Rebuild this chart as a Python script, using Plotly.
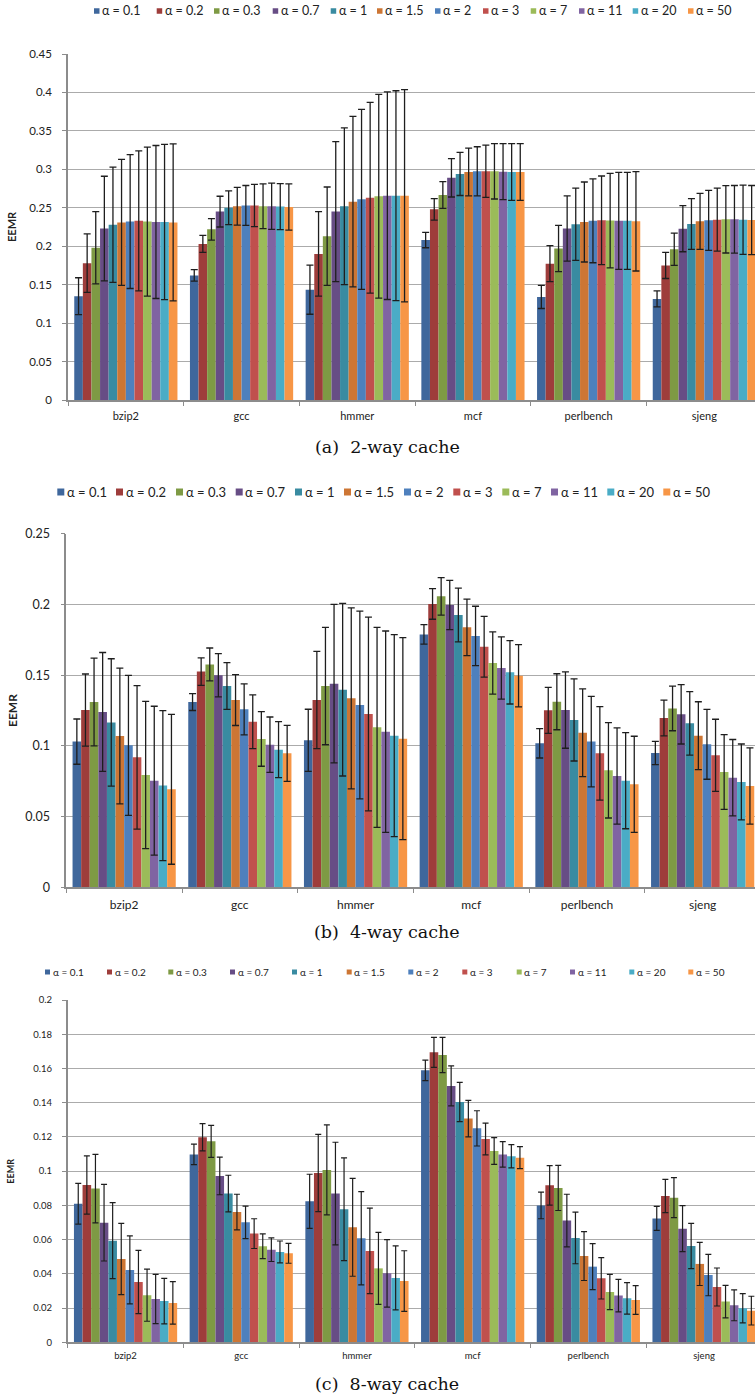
import plotly.graph_objects as go

W, H = 755, 1398

benchmarks = ["bzip2", "gcc", "hmmer", "mcf", "perlbench", "sjeng"]
alphas = ["0.1", "0.2", "0.3", "0.7", "1", "1.5", "2", "3", "7", "11", "20", "50"]
colors = ["#3F679C", "#9E3D3B", "#7E9A44", "#674D85", "#398BA1", "#CD7634",
          "#4E80BD", "#C0504D", "#9BBB59", "#8064A2", "#4AACC6", "#F79646"]

# rows = benchmarks, columns = alphas
way2_mean = [
    [0.135, 0.178, 0.198, 0.223, 0.228, 0.231, 0.232, 0.233, 0.232, 0.2315, 0.2315, 0.231],
    [0.162, 0.203, 0.222, 0.245, 0.250, 0.252, 0.253, 0.253, 0.252, 0.252, 0.2515, 0.251],
    [0.1435, 0.190, 0.213, 0.245, 0.252, 0.258, 0.261, 0.263, 0.265, 0.2657, 0.2657, 0.2657],
    [0.208, 0.248, 0.2666, 0.289, 0.294, 0.2965, 0.2974, 0.2974, 0.2974, 0.297, 0.2965, 0.2965],
    [0.134, 0.1773, 0.197, 0.223, 0.2285, 0.2315, 0.233, 0.2337, 0.2333, 0.233, 0.233, 0.2324],
    [0.1314, 0.175, 0.196, 0.2228, 0.229, 0.2324, 0.2337, 0.2345, 0.235, 0.235, 0.2345, 0.234],
]
way2_err = [
    [0.024, 0.038, 0.047, 0.068, 0.075, 0.082, 0.087, 0.091, 0.097, 0.0995, 0.101, 0.102],
    [0.0075, 0.011, 0.014, 0.020, 0.022, 0.0246, 0.026, 0.0275, 0.029, 0.030, 0.030, 0.030],
    [0.032, 0.055, 0.064, 0.091, 0.102, 0.111, 0.117, 0.124, 0.1325, 0.135, 0.1365, 0.138],
    [0.010, 0.014, 0.0174, 0.025, 0.028, 0.031, 0.032, 0.034, 0.036, 0.0365, 0.037, 0.037],
    [0.015, 0.0234, 0.030, 0.0425, 0.047, 0.052, 0.0545, 0.0576, 0.0615, 0.063, 0.063, 0.0646],
    [0.0104, 0.017, 0.021, 0.030, 0.033, 0.0364, 0.039, 0.041, 0.0438, 0.044, 0.045, 0.045],
]
way4_mean = [
    [0.103, 0.1253, 0.131, 0.124, 0.1166, 0.107, 0.1004, 0.0919, 0.0794, 0.0754, 0.0719, 0.0693],
    [0.131, 0.1525, 0.1576, 0.1499, 0.1423, 0.1324, 0.1258, 0.1171, 0.1049, 0.1008, 0.0973, 0.0947],
    [0.1039, 0.1324, 0.1423, 0.144, 0.1397, 0.1336, 0.1289, 0.1225, 0.1131, 0.110, 0.1072, 0.1051],
    [0.1788, 0.2003, 0.2057, 0.1996, 0.1925, 0.1838, 0.1777, 0.1701, 0.1586, 0.155, 0.152, 0.1496],
    [0.1018, 0.1251, 0.1312, 0.1253, 0.1183, 0.1093, 0.103, 0.0947, 0.0827, 0.0787, 0.0754, 0.0728],
    [0.095, 0.1197, 0.1265, 0.1223, 0.1159, 0.1072, 0.1011, 0.0933, 0.0815, 0.0775, 0.0745, 0.0716],
]
way4_err = [
    [0.016, 0.0255, 0.031, 0.042, 0.045, 0.048, 0.0495, 0.0507, 0.052, 0.0526, 0.053, 0.053],
    [0.006, 0.0097, 0.0116, 0.0153, 0.0165, 0.018, 0.018, 0.019, 0.0193, 0.0196, 0.0198, 0.0198],
    [0.022, 0.0344, 0.0415, 0.056, 0.061, 0.064, 0.0664, 0.0685, 0.0707, 0.0712, 0.0714, 0.0714],
    [0.0069, 0.0108, 0.0132, 0.0174, 0.019, 0.020, 0.021, 0.0215, 0.022, 0.022, 0.0224, 0.022],
    [0.0104, 0.0163, 0.0198, 0.027, 0.029, 0.031, 0.032, 0.033, 0.0337, 0.034, 0.034, 0.034],
    [0.0082, 0.0127, 0.0158, 0.021, 0.0224, 0.024, 0.0247, 0.0255, 0.0264, 0.027, 0.0268, 0.027],
]
way8_mean = [
    [0.081, 0.0919, 0.0898, 0.0699, 0.0594, 0.0487, 0.0423, 0.0352, 0.0275, 0.0253, 0.0241, 0.023],
    [0.1098, 0.1198, 0.1174, 0.0972, 0.0869, 0.0761, 0.0701, 0.0635, 0.0561, 0.0541, 0.0528, 0.052],
    [0.0824, 0.0989, 0.1007, 0.0869, 0.0777, 0.0672, 0.0608, 0.0534, 0.0432, 0.0403, 0.0376, 0.0358],
    [0.1589, 0.1694, 0.1679, 0.1498, 0.1404, 0.1307, 0.125, 0.1188, 0.1118, 0.1098, 0.1087, 0.1079],
    [0.080, 0.0917, 0.0902, 0.0711, 0.061, 0.0504, 0.0442, 0.0374, 0.0294, 0.0273, 0.0257, 0.0247],
    [0.0724, 0.0855, 0.0845, 0.0664, 0.0563, 0.0458, 0.0393, 0.0323, 0.0238, 0.0216, 0.0199, 0.0185],
]
way8_err = [
    [0.0119, 0.017, 0.020, 0.0224, 0.0222, 0.0208, 0.0199, 0.0185, 0.0152, 0.0144, 0.0133, 0.0124],
    [0.006, 0.008, 0.0094, 0.011, 0.0107, 0.0104, 0.0095, 0.0087, 0.0072, 0.0069, 0.0064, 0.0058],
    [0.0158, 0.0226, 0.0263, 0.030, 0.030, 0.0286, 0.0272, 0.025, 0.021, 0.0197, 0.0187, 0.0177],
    [0.006, 0.0088, 0.0103, 0.0117, 0.0115, 0.0107, 0.0103, 0.0093, 0.0078, 0.0074, 0.0068, 0.0064],
    [0.0078, 0.0115, 0.0132, 0.0154, 0.0151, 0.0143, 0.0134, 0.0121, 0.0103, 0.0095, 0.0092, 0.0084],
    [0.007, 0.0097, 0.0117, 0.0134, 0.0132, 0.0126, 0.0121, 0.0111, 0.0095, 0.009, 0.0085, 0.0084],
]

way2_ticks = [0, 0.05, 0.1, 0.15, 0.2, 0.25, 0.3, 0.35, 0.4, 0.45]
way2_ticktext = ["0", "0.05", "0.1", "0.15", "0.2", "0.25", "0.3", "0.35", "0.4", "0.45"]
way4_ticks = [0, 0.05, 0.1, 0.15, 0.2, 0.25]
way4_ticktext = ["0", "0.05", "0.1", "0.15", "0.2", "0.25"]
way8_ticks = [0, 0.02, 0.04, 0.06, 0.08, 0.1, 0.12, 0.14, 0.16, 0.18, 0.2]
way8_ticktext = ["0", "0.02", "0.04", "0.06", "0.08", "0.1", "0.12", "0.14", "0.16", "0.18", "0.2"]

captions = ["(a)  2-way cache", "(b)  4-way cache", "(c)  8-way cache"]
ytitle = "EEMR"

# ---------------- layout geometry (pixels) ----------------
FONT = "Lato, Open Sans, sans-serif"
panels = [
    dict(mean=way2_mean, err=way2_err, ticks=way2_ticks, ticktext=way2_ticktext,
         top=54, bottom=400, left=68, ymax=0.45, tickfont=11.5, catfont=11,
         titlefont=11, titlex=12, gridw=1.4, cap=3.5, errw=1.3,
         leg_y=11, leg_font=12.5, leg_sw=5.5,
         leg_x=[94, 156.7, 214, 272.7, 330.7, 377, 435, 483, 530.7, 579, 632.7, 688],
         cap_y=446.5, tstand=5),
    dict(mean=way4_mean, err=way4_err, ticks=way4_ticks, ticktext=way4_ticktext,
         top=533.7, bottom=887.3, left=66.3, ymax=0.25, tickfont=12.5, catfont=12,
         titlefont=12, titlex=12.5, gridw=1.4, cap=3.5, errw=1.3,
         leg_y=492, leg_font=13, leg_sw=7,
         leg_x=[57.3, 116, 176, 235.7, 295, 344, 404, 453.3, 502.3, 551, 607.3, 663.3],
         cap_y=932, tstand=6),
    dict(mean=way8_mean, err=way8_err, ticks=way8_ticks, ticktext=way8_ticktext,
         top=1000, bottom=1342.3, left=67.7, ymax=0.2, tickfont=9.5, catfont=9.5,
         titlefont=9, titlex=10.5, gridw=1.2, cap=3, errw=1.2,
         leg_y=972, leg_font=10, leg_sw=5,
         leg_x=[45, 107, 168.3, 230, 292, 346.7, 408.3, 462.3, 516.7, 570, 629.3, 688.3],
         cap_y=1383.5, tstand=4),
]

fig = go.Figure()
shapes = []
annotations = []

for p_i, p in enumerate(panels):
    sfx = "" if p_i == 0 else str(p_i + 1)
    xa, ya = "x" + sfx, "y" + sfx
    for a_i, alpha in enumerate(alphas):
        fig.add_trace(go.Bar(
            x=benchmarks,
            y=[row[a_i] for row in p["mean"]],
            error_y=dict(type="data", array=[row[a_i] for row in p["err"]],
                         color="#1E1E1E", thickness=p["errw"], width=p["cap"]),
            marker=dict(color=colors[a_i], line=dict(width=0)),
            name="α = " + alpha, showlegend=False,
            xaxis=xa, yaxis=ya,
        ))
    dom_y = [1 - p["bottom"] / H, 1 - p["top"] / H]
    dom_x = [p["left"] / W, 1.0]
    span = (W - p["left"]) / 115.7
    fig.layout["xaxis" + sfx] = dict(
        domain=dom_x, anchor=ya, type="category", range=[-0.5, -0.5 + span],
        showline=True, linecolor="#8C8C8C", linewidth=1.5,
        ticks="outside", tickson="boundaries", ticklen=4, tickcolor="#8C8C8C",
        tickwidth=1.2, showgrid=False, automargin=False, fixedrange=True,
        tickfont=dict(family=FONT, size=p["catfont"], color="#222"),
        ticklabelstandoff=p["tstand"],
    )
    fig.layout["yaxis" + sfx] = dict(
        domain=dom_y, anchor=xa, range=[0, p["ymax"]],
        tickvals=p["ticks"], ticktext=p["ticktext"],
        showline=True, linecolor="#8C8C8C", linewidth=1.5,
        ticks="outside", ticklen=4, tickcolor="#8C8C8C", tickwidth=1.2,
        showgrid=True, gridcolor="#ABABAB", gridwidth=p["gridw"],
        zeroline=False, automargin=False, fixedrange=True,
        tickfont=dict(family=FONT, size=p["tickfont"], color="#222"),
        ticklabelstandoff=8,
    )
    # y title
    annotations.append(dict(
        text="<b>" + ytitle + "</b>", xref="paper", yref="paper",
        x=p["titlex"] / W, y=1 - (p["top"] + p["bottom"]) / 2 / H,
        textangle=-90, showarrow=False, xanchor="center", yanchor="middle",
        font=dict(family=FONT, size=p["titlefont"], color="#222"),
    ))
    # caption
    annotations.append(dict(
        text=captions[p_i], xref="paper", yref="paper",
        x=387 / W, y=1 - p["cap_y"] / H, showarrow=False,
        xanchor="center", yanchor="middle",
        font=dict(family="DejaVu Serif, serif", size=17.5, color="#111"),
    ))
    # legend (custom, Excel-like compact horizontal legend)
    sw = p["leg_sw"]
    for a_i, alpha in enumerate(alphas):
        lx = p["leg_x"][a_i]
        ly = p["leg_y"]
        shapes.append(dict(
            type="rect", xref="paper", yref="paper",
            x0=lx / W, x1=(lx + sw) / W,
            y0=1 - (ly + sw / 2) / H, y1=1 - (ly - sw / 2) / H,
            fillcolor=colors[a_i], line=dict(width=0),
        ))
        annotations.append(dict(
            text="α = " + alpha, xref="paper", yref="paper",
            x=(lx + sw + 1.5) / W, y=1 - ly / H, showarrow=False,
            xanchor="left", yanchor="middle", borderpad=0,
            font=dict(family=FONT, size=p["leg_font"], color="#222"),
        ))

fig.update_layout(
    width=W, height=H, template="none",
    margin=dict(l=0, r=0, t=0, b=0),
    paper_bgcolor="white", plot_bgcolor="white",
    barmode="group", bargap=0.108, bargroupgap=0,
    showlegend=False,
    shapes=shapes, annotations=annotations,
)

fig.write_html("out.html", config={"displayModeBar": False})
